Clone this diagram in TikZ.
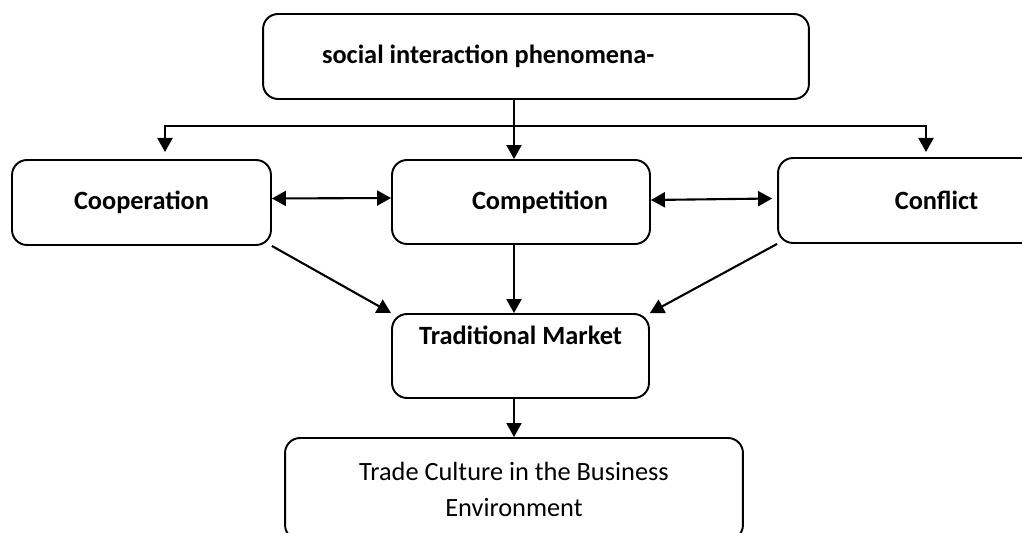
\documentclass[tikz,border=0pt]{standalone}
\usepackage{fontspec}
\setmainfont{Carlito}
\usepackage{tikz}
\usetikzlibrary{arrows.meta}
\usetikzlibrary{calc}
\usetikzlibrary{positioning}

\tikzset{
  box/.style={draw, line width=1.1pt, rounded corners=0.3cm, inner sep=0pt,
    font=\fontsize{15}{20.5}\selectfont},
  arr/.style={line width=1.2pt, -{Triangle[length=0.28cm, width=0.3cm]}},
  arrs/.style={line width=1.2pt, {Triangle[length=0.28cm, width=0.3cm]}-{Triangle[length=0.28cm, width=0.3cm]}}
}

\begin{document}
\begin{tikzpicture}[x=0.02cm, y=-0.02cm]
      \useasboundingbox (0, 0) rectangle (1022, 533);

      \node[box, minimum width=10.92cm, minimum height=1.7cm, text width=8.56cm,
        inner xsep=1.18cm, align=flush left, font=\fontsize{15}{20.5}\selectfont\bfseries]
        (social) at (536, 56.5) {social interaction phenomena-};

      \node[box, minimum width=5.18cm, minimum height=1.7cm, font=\fontsize{15}{20.5}\selectfont\bfseries]
        (coop) at (141.5, 202.5) {Cooperation};
      \node[box, minimum width=5.16cm, minimum height=1.68cm, text width=3.48cm,
        inner xsep=0.84cm, align=flush right, font=\fontsize{15}{20.5}\selectfont\bfseries]
        (comp) at (521, 202) {Competition};
      \node[box, minimum width=6.34cm, minimum height=1.7cm, font=\fontsize{15}{20.5}\selectfont\bfseries]
        (confl) at (936.5, 200.5) {Conflict};

      \node[box, minimum width=5.14cm, minimum height=1.68cm, text height=10pt, text depth=22.6pt,
        font=\fontsize{15}{20.5}\selectfont\bfseries]
        (market) at (520.5, 356) {Traditional Market};

      \node[box, minimum width=9.16cm, minimum height=2.04cm, align=center]
        (culture) at (514, 489) {Trade Culture in the Business\\Environment};

      \coordinate (split) at (514, 126);
      \coordinate (ltip) at (165, 152);
      \coordinate (rtip) at (926, 152);

      \draw[arr] (social.south -| split) -- (comp.north -| split);
      \draw[arr] (split) -| (ltip);
      \draw[arr] (split) -| (rtip);

      \draw[arrs] ([yshift=0.08cm]coop.east) -- ([yshift=0.08cm]comp.west);
      \draw[arrs] ([yshift=0.04cm]comp.east) -- ([yshift=0.04cm, xshift=-0.1cm]confl.west);

      \draw[arr] (coop.south east) -- (market.north west);
      \draw[arr] (comp.south -| split) -- (market.north -| split);
      \draw[arr] (confl.south west) -- (market.north east);

      \draw[arr] (market.south -| culture) -- (culture.north);

    \end{tikzpicture}
\end{document}
